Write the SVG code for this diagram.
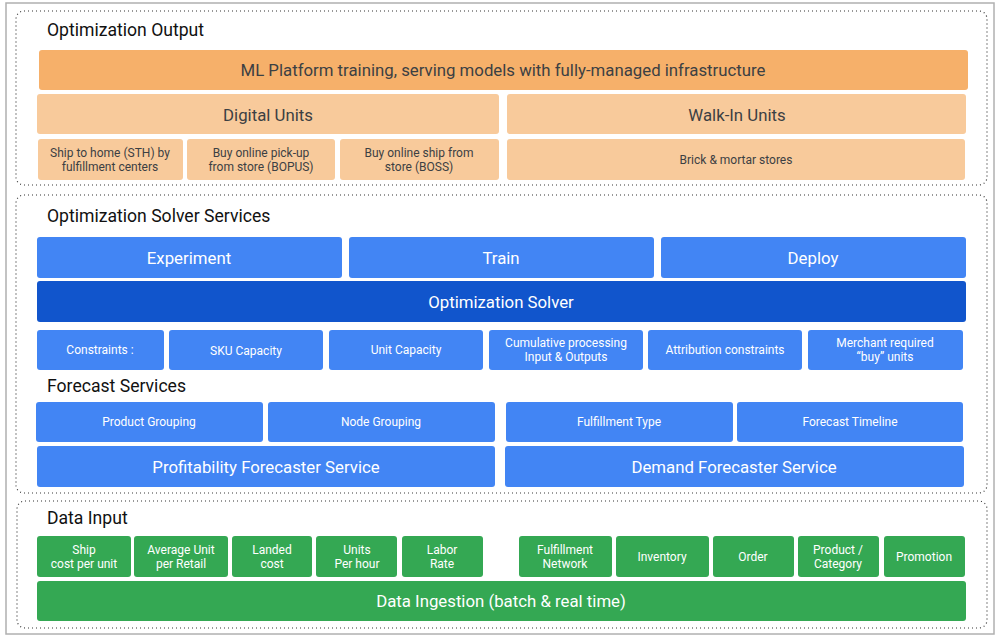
<svg xmlns="http://www.w3.org/2000/svg" width="1000" height="638" viewBox="0 0 1000 638">
<style>
text{font-family:Roboto,"Liberation Sans",sans-serif;text-anchor:middle;dominant-baseline:central}
.frame{fill:#fff;stroke:#b0b0b0;stroke-width:1.5}
.sec{fill:none;stroke:#333;stroke-width:1.2;stroke-dasharray:1 3}
.title{font-size:17.6px;fill:#111;text-anchor:start;dominant-baseline:alphabetic}
.or1{fill:#f6b06a}
.or2{fill:#f8ca9b}
.bl{fill:#4285f4}
.db{fill:#1155cc}
.gr{fill:#34a853}
.dk{fill:#3c4043}
.wt{fill:#fff}
.l{font-size:16.8px}
.s{font-size:12px}
</style>
<rect class="frame" x="6" y="3" width="988" height="631"/>
<g id="sections">
<rect class="sec" x="16" y="11" width="971" height="174" rx="8"/>
<rect class="sec" x="16" y="195" width="971" height="298" rx="8"/>
<rect class="sec" x="17" y="501" width="970" height="127" rx="8"/>
<text class="title" x="47" y="36">Optimization Output</text>
<text class="title" x="47" y="222">Optimization Solver Services</text>
<text class="title" x="47" y="392">Forecast Services</text>
<text class="title" x="47" y="524">Data Input</text>
</g>
<g id="connectors"></g>
<g id="ml-platform"><rect class="or1" x="39" y="50" width="929" height="40" rx="3"/><text class="dk l" x="503" y="70">ML Platform training, serving models with fully-managed infrastructure</text></g>
<g id="digital-units"><rect class="or2" x="37" y="94" width="462" height="40" rx="3"/><text class="dk l" x="268" y="115">Digital Units</text></g>
<g id="walkin-units"><rect class="or2" x="507" y="94" width="459" height="40" rx="3"/><text class="dk l" x="737" y="115">Walk-In Units</text></g>
<g id="sth"><rect class="or2" x="38" y="139" width="145" height="41" rx="3"/><text class="dk s" x="110" y="153">Ship to home (STH) by</text><text class="dk s" x="110" y="167">fulfillment centers</text></g>
<g id="bopus"><rect class="or2" x="187" y="139" width="148" height="41" rx="3"/><text class="dk s" x="261" y="153">Buy online pick-up</text><text class="dk s" x="261" y="167">from store (BOPUS)</text></g>
<g id="boss"><rect class="or2" x="340" y="139" width="159" height="41" rx="3"/><text class="dk s" x="419" y="153">Buy online ship from</text><text class="dk s" x="419" y="167">store (BOSS)</text></g>
<g id="brick"><rect class="or2" x="507" y="139" width="458" height="41" rx="3"/><text class="dk s" x="736" y="160">Brick &amp; mortar stores</text></g>

<g id="experiment"><rect class="bl" x="37" y="237" width="305" height="41" rx="3"/><text class="wt l" x="189" y="258">Experiment</text></g>
<g id="train"><rect class="bl" x="349" y="237" width="305" height="41" rx="3"/><text class="wt l" x="501" y="258">Train</text></g>
<g id="deploy"><rect class="bl" x="661" y="237" width="305" height="41" rx="3"/><text class="wt l" x="813" y="258">Deploy</text></g>
<g id="opt-solver"><rect class="db" x="37" y="281" width="929" height="41" rx="3"/><text class="wt l" x="501" y="302">Optimization Solver</text></g>
<g id="constraints"><rect class="bl" x="37" y="330" width="127" height="40" rx="3"/><text class="wt s" x="100" y="350">Constraints :</text></g>
<g id="sku"><rect class="bl" x="169" y="330" width="154" height="40" rx="3"/><text class="wt s" x="246" y="351">SKU Capacity</text></g>
<g id="unit-cap"><rect class="bl" x="329" y="330" width="154" height="40" rx="3"/><text class="wt s" x="406" y="350">Unit Capacity</text></g>
<g id="cumulative"><rect class="bl" x="489" y="330" width="154" height="40" rx="3"/><text class="wt s" x="566" y="343">Cumulative processing</text><text class="wt s" x="566" y="357">Input &amp; Outputs</text></g>
<g id="attribution"><rect class="bl" x="648" y="330" width="154" height="40" rx="3"/><text class="wt s" x="725" y="350">Attribution constraints</text></g>
<g id="merchant"><rect class="bl" x="808" y="330" width="155" height="40" rx="3"/><text class="wt s" x="885" y="343">Merchant required</text><text class="wt s" x="885" y="357">“buy” units</text></g>

<g id="product-grouping"><rect class="bl" x="36" y="402" width="227" height="40" rx="3"/><text class="wt s" x="149" y="422">Product Grouping</text></g>
<g id="node-grouping"><rect class="bl" x="268" y="402" width="227" height="40" rx="3"/><text class="wt s" x="381" y="422">Node Grouping</text></g>
<g id="fulfillment-type"><rect class="bl" x="506" y="402" width="227" height="40" rx="3"/><text class="wt s" x="619" y="422">Fulfillment Type</text></g>
<g id="forecast-timeline"><rect class="bl" x="737" y="402" width="226" height="40" rx="3"/><text class="wt s" x="850" y="422">Forecast Timeline</text></g>
<g id="profitability"><rect class="bl" x="37" y="446" width="458" height="41" rx="3"/><text class="wt l" x="266" y="467">Profitability Forecaster Service</text></g>
<g id="demand"><rect class="bl" x="505" y="446" width="459" height="41" rx="3"/><text class="wt l" x="734" y="467">Demand Forecaster Service</text></g>

<g id="ship-cost"><rect class="gr" x="37" y="536" width="94" height="41" rx="3"/><text class="wt s" x="84" y="550">Ship</text><text class="wt s" x="84" y="564">cost per unit</text></g>
<g id="avg-unit"><rect class="gr" x="134" y="536" width="94" height="41" rx="3"/><text class="wt s" x="181" y="550">Average Unit</text><text class="wt s" x="181" y="564">per Retail</text></g>
<g id="landed"><rect class="gr" x="232" y="536" width="80" height="41" rx="3"/><text class="wt s" x="272" y="550">Landed</text><text class="wt s" x="272" y="564">cost</text></g>
<g id="units-hour"><rect class="gr" x="316" y="536" width="81" height="41" rx="3"/><text class="wt s" x="357" y="550">Units</text><text class="wt s" x="357" y="564">Per hour</text></g>
<g id="labor"><rect class="gr" x="402" y="536" width="81" height="41" rx="3"/><text class="wt s" x="442" y="550">Labor</text><text class="wt s" x="442" y="564">Rate</text></g>
<g id="fulfillment-network"><rect class="gr" x="519" y="536" width="93" height="41" rx="3"/><text class="wt s" x="565" y="550">Fulfillment</text><text class="wt s" x="565" y="564">Network</text></g>
<g id="inventory"><rect class="gr" x="616" y="536" width="93" height="41" rx="3"/><text class="wt s" x="662" y="557">Inventory</text></g>
<g id="order"><rect class="gr" x="713" y="536" width="81" height="41" rx="3"/><text class="wt s" x="753" y="557">Order</text></g>
<g id="product-category"><rect class="gr" x="798" y="536" width="81" height="41" rx="3"/><text class="wt s" x="838" y="550">Product /</text><text class="wt s" x="838" y="564">Category</text></g>
<g id="promotion"><rect class="gr" x="884" y="536" width="81" height="41" rx="3"/><text class="wt s" x="924" y="557">Promotion</text></g>
<g id="data-ingestion"><rect class="gr" x="37" y="581" width="929" height="40" rx="3"/><text class="wt l" x="501" y="601">Data Ingestion (batch &amp; real time)</text></g>
</svg>
